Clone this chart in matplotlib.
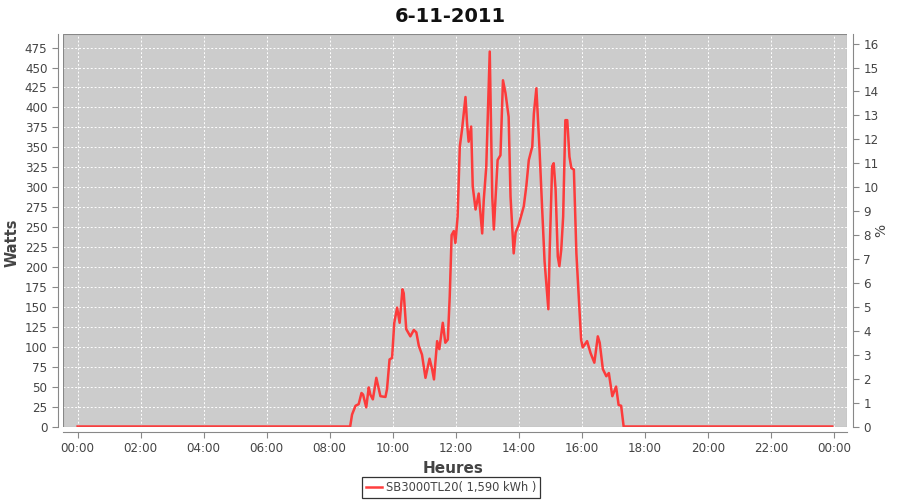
import matplotlib
matplotlib.use('Agg')
import matplotlib.pyplot as plt

# sample times (hours) and power (W)
hours = [0.0, 8.65, 8.71, 8.82, 8.92, 9.01, 9.06, 9.16, 9.24, 9.29, 9.37,
         9.48, 9.61, 9.77, 9.82, 9.90, 9.98, 10.05, 10.14, 10.22, 10.31,
         10.35, 10.43, 10.56, 10.67, 10.75, 10.83, 10.93, 11.04, 11.17,
         11.25, 11.31, 11.41, 11.48, 11.59, 11.67, 11.75, 11.81, 11.87,
         11.94, 11.99, 12.06, 12.13, 12.20, 12.31, 12.36, 12.41, 12.49,
         12.54, 12.63, 12.73, 12.84, 12.89, 12.97, 13.08, 13.16, 13.21,
         13.33, 13.42, 13.50, 13.58, 13.68, 13.74, 13.84, 13.90, 14.00,
         14.16, 14.24, 14.32, 14.43, 14.48, 14.56, 14.66, 14.74, 14.82,
         14.94, 14.98, 15.06, 15.11, 15.17, 15.24, 15.29, 15.35, 15.41,
         15.48, 15.54, 15.61, 15.67, 15.75, 15.83, 15.91, 15.98, 16.03,
         16.17, 16.28, 16.40, 16.51, 16.57, 16.67, 16.78, 16.86, 16.97,
         17.09, 17.17, 17.25, 17.33, 23.95]
watts = [0, 0, 15, 26, 28, 42, 40, 24, 49, 40, 34,
         61, 38, 37, 47, 84, 86, 130, 149, 130, 172,
         167, 122, 113, 121, 118, 101, 90, 61, 85,
         72, 59, 107, 97, 130, 105, 109, 163, 240,
         245, 230, 263, 351, 372, 413, 380, 357, 376,
         301, 272, 292, 242, 284, 326, 470, 288, 247,
         334, 340, 434, 418, 388, 288, 217, 243, 253,
         276, 301, 334, 351, 392, 424, 347, 276, 207,
         147, 217, 326, 330, 297, 213, 201, 222, 263,
         384, 384, 338, 324, 322, 217, 159, 109, 99,
         107, 92, 80, 113, 105, 72, 63, 67, 38,
         50, 27, 26, 0, 0]

tick_hours = list(range(0, 25, 2))
tick_labels = ['%02d:00' % (h % 24) for h in tick_hours]
series_name = 'SB3000TL20( 1,590 kWh )'
nominal_power = 3000.0

txt = '#444444'
axc = '#888888'

fig = plt.figure(figsize=(9, 5), dpi=100)
ax = fig.add_axes([0.0705, 0.147, 0.871, 0.785])
ax.set_facecolor('#cccccc')

ax.plot(hours, watts, color='#ff3333', lw=1.8, alpha=0.95, label=series_name,
        solid_joinstyle='round')

ax.set_xlim(-0.45, 24.43)
ax.set_ylim(0, 492)
ax.set_xticks(tick_hours)
ax.set_xticklabels(tick_labels)
ax.set_yticks(range(0, 476, 25))
ax.grid(True, color='white', linestyle=(0, (2, 2)), lw=0.7)
ax.set_axisbelow(True)

for s in ['left', 'bottom']:
    ax.spines[s].set_position(('outward', 4))
    ax.spines[s].set_color(axc)
ax.spines['top'].set_visible(False)
ax.spines['right'].set_visible(False)
ax.tick_params(colors=axc, labelcolor=txt, labelsize=8.6, length=4)

# right axis: percent of nominal power
ax2 = ax.secondary_yaxis('right', functions=(lambda w: w / nominal_power * 100,
                                             lambda p: p * nominal_power / 100))
ax2.set_yticks(range(0, 17))
ax2.spines['right'].set_position(('outward', 4))
ax2.spines['right'].set_color(axc)
ax2.tick_params(colors=axc, labelcolor=txt, labelsize=8.6, length=4)
fig.text(881 / 900, 0.54, '%', rotation=90, color=txt, fontsize=10,
         ha='center', va='center')

# thin border around plot area
ax.add_patch(plt.Rectangle((0, 0), 1, 1, transform=ax.transAxes, fill=False,
                           edgecolor='#888888', lw=0.8, zorder=5))

ax.set_xlabel('Heures', color=txt, fontsize=11, fontweight='bold')
ax.xaxis.set_label_coords(0.497, -0.087)
ax.set_ylabel('Watts', color=txt, fontsize=10.5, fontweight='bold')
ax.yaxis.set_label_coords(-0.056, 0.468)
fig.text(0.5, 0.986, '6-11-2011', fontsize=14, fontweight='bold',
         color='#111111', ha='center', va='top')

leg = fig.legend(loc='center', bbox_to_anchor=(0.501, 0.025), frameon=True,
                 fancybox=False, fontsize=8.3, handlelength=1.4,
                 borderpad=0.35, handletextpad=0.3)
leg.get_frame().set_edgecolor('black')
leg.get_frame().set_linewidth(0.9)
for t in leg.get_texts():
    t.set_color(txt)

fig.savefig('out.png', dpi=100)
